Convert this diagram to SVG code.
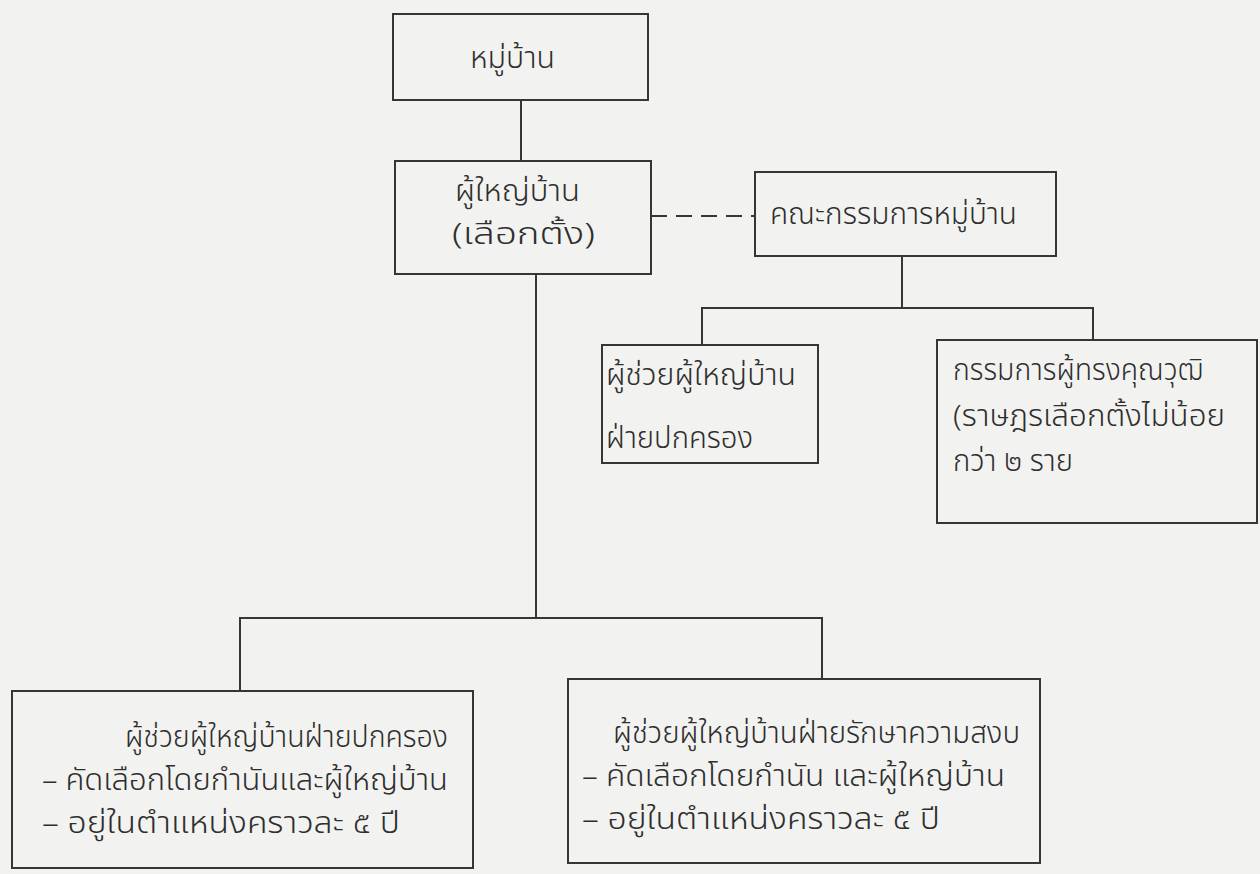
<svg xmlns="http://www.w3.org/2000/svg" width="1260" height="874" viewBox="0 0 1260 874">
<style>
.bg{fill:#f2f2f0}
.box{fill:none;stroke:#363636;stroke-width:2}
.ln{fill:none;stroke:#363636;stroke-width:2}
.dash{stroke-dasharray:16 9}
text{font-family:"Noto Sans Thai","Noto Sans Thai Looped","TlwgTypewriter","Loma","Garuda","Noto Sans",sans-serif;font-size:30px;font-weight:300;fill:#2e2e2e}
</style>
<rect class="bg" x="0" y="0" width="1260" height="874"/>
<g id="connectors">
<line class="ln" x1="521" y1="100" x2="521" y2="161"/>
<line class="ln dash" x1="651" y1="216" x2="755" y2="216"/>
<line class="ln" x1="902" y1="256" x2="902" y2="308"/>
<polyline class="ln" points="702,345 702,308 1093,308 1093,340"/>
<line class="ln" x1="536" y1="274" x2="536" y2="618"/>
<polyline class="ln" points="240,690 240,618 822,618 822,678"/>
</g>
<g id="n1">
<rect class="box" x="393" y="14" width="255" height="86"/>
<text x="470" y="68" textLength="85" lengthAdjust="spacingAndGlyphs">หมู่บ้าน</text>
</g>
<g id="n2">
<rect class="box" x="395" y="161" width="256" height="113"/>
<text x="455" y="201" textLength="125" lengthAdjust="spacingAndGlyphs">ผู้ใหญ่บ้าน</text>
<text x="452" y="244" textLength="143" lengthAdjust="spacingAndGlyphs">(เลือกตั้ง)</text>
</g>
<g id="n3">
<rect class="box" x="755" y="172" width="301" height="84"/>
<text x="770" y="224" textLength="247" lengthAdjust="spacingAndGlyphs">คณะกรรมการหมู่บ้าน</text>
</g>
<g id="n4">
<rect class="box" x="602" y="345" width="216" height="118"/>
<text x="606" y="385" textLength="190" lengthAdjust="spacingAndGlyphs">ผู้ช่วยผู้ใหญ่บ้าน</text>
<text x="606" y="448" textLength="147" lengthAdjust="spacingAndGlyphs">ฝ่ายปกครอง</text>
</g>
<g id="n5">
<rect class="box" x="937" y="340" width="320" height="183"/>
<text x="953" y="380" textLength="250" lengthAdjust="spacingAndGlyphs">กรรมการผู้ทรงคุณวุฒิ</text>
<text x="953" y="426" textLength="272" lengthAdjust="spacingAndGlyphs">(ราษฎรเลือกตั้งไม่น้อย</text>
<text x="953" y="471" textLength="120" lengthAdjust="spacingAndGlyphs">กว่า ๒ ราย</text>
</g>
<g id="n6">
<rect class="box" x="12" y="691" width="461" height="177"/>
<text x="125" y="747" textLength="323" lengthAdjust="spacingAndGlyphs">ผู้ช่วยผู้ใหญ่บ้านฝ่ายปกครอง</text>
<text x="42" y="790" textLength="406" lengthAdjust="spacingAndGlyphs">– คัดเลือกโดยกำนันและผู้ใหญ่บ้าน</text>
<text x="42" y="833" textLength="358" lengthAdjust="spacingAndGlyphs">– อยู่ในตำแหน่งคราวละ ๕ ปี</text>
</g>
<g id="n7">
<rect class="box" x="568" y="679" width="472" height="184"/>
<text x="613" y="743" textLength="407" lengthAdjust="spacingAndGlyphs">ผู้ช่วยผู้ใหญ่บ้านฝ่ายรักษาความสงบ</text>
<text x="582" y="786" textLength="423" lengthAdjust="spacingAndGlyphs">– คัดเลือกโดยกำนัน และผู้ใหญ่บ้าน</text>
<text x="582" y="829" textLength="358" lengthAdjust="spacingAndGlyphs">– อยู่ในตำแหน่งคราวละ ๕ ปี</text>
</g>
</svg>
